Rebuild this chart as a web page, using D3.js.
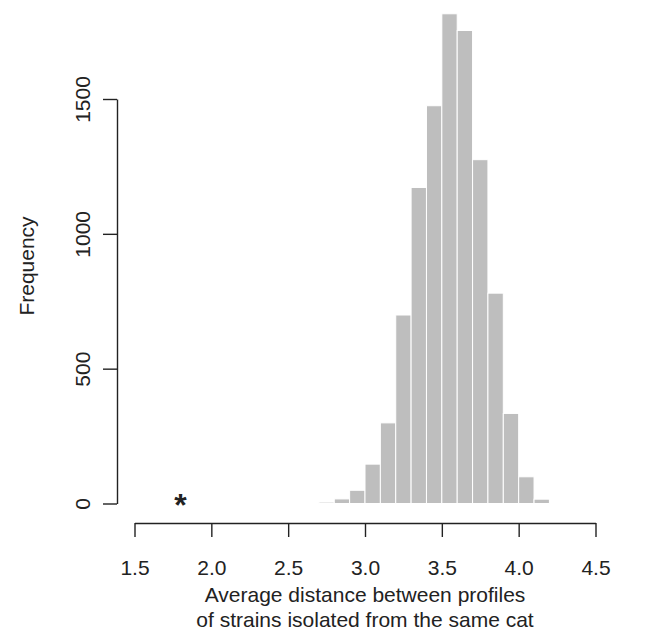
<!DOCTYPE html>
<html>
<head>
<meta charset="utf-8">
<script src="https://cdn.jsdelivr.net/npm/d3@7"></script>
<style>
  body { margin: 0; background: #fff; }
  text { font-family: "Liberation Sans", Arial, sans-serif; fill: #222; }
</style>
</head>
<body>
<svg width="656" height="634"></svg>
<script>
// histogram bins (left edge) and counts
var binStarts = [2.7, 2.8, 2.9, 3.0, 3.1, 3.2, 3.3, 3.4, 3.5, 3.6, 3.7, 3.8, 3.9, 4.0, 4.1];
var counts    = [5, 17, 49, 146, 299, 699, 1172, 1475, 1816, 1754, 1275, 780, 334, 99, 16];
var binWidth = 0.1;
var xTicks = [1.5, 2.0, 2.5, 3.0, 3.5, 4.0, 4.5];
var yTicks = [0, 500, 1000, 1500];
var observed = 1.8; // starred observed value

var svg = d3.select("svg");

var x = d3.scaleLinear().domain([1.5, 4.5]).range([134.5, 595.5]);
var y = d3.scaleLinear().domain([0, 1500]).range([503.5, 99]);

// bars
svg.append("g")
  .selectAll("rect")
  .data(binStarts)
  .enter()
  .append("rect")
    .attr("x", function(d){ return x(d) })
    .attr("y", function(d, i){ return y(counts[i]) })
    .attr("width", function(d){ return x(d + binWidth) - x(d) })
    .attr("height", function(d, i){ return y(0) - y(counts[i]) })
    .attr("fill", "#bebebe")
    .attr("stroke", "#fff")
    .attr("stroke-width", 1);

// x axis
var xAxis = svg.append("g")
  .attr("transform", "translate(0,523)")
  .call(d3.axisBottom(x).tickValues(xTicks).tickFormat(d3.format(".1f")).tickSize(14).tickSizeOuter(0));
xAxis.select(".domain").attr("stroke", "#222").attr("stroke-width", 1.4);
xAxis.selectAll(".tick line").attr("stroke", "#222").attr("stroke-width", 1.4);
xAxis.selectAll(".tick text")
  .attr("y", 52)
  .attr("dy", 0)
  .style("font-size", "21px");

// y axis
var yAxis = svg.append("g")
  .attr("transform", "translate(117,0)")
  .call(d3.axisLeft(y).tickValues(yTicks).tickFormat(d3.format("d")).tickSize(14).tickSizeOuter(0));
yAxis.select(".domain").attr("stroke", "#222").attr("stroke-width", 1.4);
yAxis.selectAll(".tick line").attr("stroke", "#222").attr("stroke-width", 1.4);
yAxis.selectAll(".tick text")
  .attr("x", 0)
  .attr("dy", 0)
  .attr("transform", "translate(-27,0) rotate(-90)")
  .attr("text-anchor", "middle")
  .style("font-size", "21px");

// axis titles
svg.append("text")
  .attr("transform", "translate(34,266) rotate(-90)")
  .attr("text-anchor", "middle")
  .style("font-size", "21px")
  .text("Frequency");

svg.append("text")
  .attr("x", 365).attr("y", 602)
  .attr("text-anchor", "middle")
  .style("font-size", "21px")
  .text("Average distance between profiles");
svg.append("text")
  .attr("x", 365).attr("y", 627)
  .attr("text-anchor", "middle")
  .style("font-size", "21px")
  .text("of strains isolated from the same cat");

// observed value marker
svg.append("text")
  .attr("x", x(observed)).attr("y", y(0) + 12)
  .attr("text-anchor", "middle")
  .style("font-size", "32px")
  .style("font-weight", "bold")
  .text("*");
</script>
</body>
</html>
